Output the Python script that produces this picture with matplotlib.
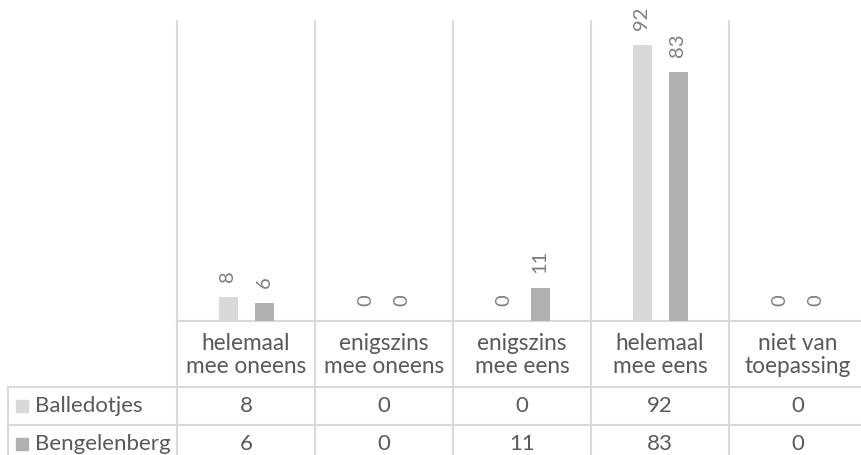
import matplotlib
matplotlib.use("Agg")
import matplotlib.pyplot as plt
import matplotlib.transforms as mtransforms
from matplotlib.patches import Rectangle

categories = ["helemaal\nmee oneens", "enigszins\nmee oneens", "enigszins\nmee eens",
              "helemaal\nmee eens", "niet van\ntoepassing"]
series_names = ["Balledotjes", "Bengelenberg"]
balledotjes = [8, 0, 0, 92, 0]
bengelenberg = [6, 0, 11, 83, 0]
values = [balledotjes, bengelenberg]
colors = ["#D9D9D9", "#B0B0B0"]

plt.rcParams['font.family'] = ['Lato', 'DejaVu Sans']
W, H = 861, 455
fig = plt.figure(figsize=(W / 100, H / 100), dpi=100)
# plot area in pixels: left 177, baseline 321, top 21, column width 138
left, base, top, colw = 177, 321, 21, 138
right = W
ax = fig.add_axes([left / W, (H - base) / H, (right - left) / W, (base - top) / H])
xmax = -0.5 + (right - left) / colw
ax.set_xlim(-0.5, xmax)
ax.set_ylim(0, 100)
ax.axis("off")

grid_c = "#D9D9D9"
txt_c = "#595959"
lab_c = "#7F7F7F"
bw = 19 / colw
off = 18 / colw
x = list(range(len(categories)))
for s, (vals, col) in enumerate(zip(values, colors)):
    xs = [i + (s * 2 - 1) * off for i in x]
    ax.bar(xs, vals, width=bw, color=col, zorder=3)
    for xi, v in zip(xs, vals):
        ax.annotate(str(v), (xi, v), xytext=(0, 15), textcoords="offset pixels",
                    rotation=90, ha="center", va="bottom", fontsize=14.5, color=lab_c)

blend = mtransforms.blended_transform_factory(ax.transData, ax.transAxes)
px = 1 / (base - top)  # axes units per pixel (vertical)
y_cat = -(387 - base) * px
y_row1 = -(425 - base) * px
y_bot = -(470 - base) * px
y_axtop = 1.0

# vertical grid lines through plot + table
for b in [-0.5 + k for k in range(5)]:
    ax.plot([b, b], [y_axtop, y_bot], transform=blend, color=grid_c, lw=1.5,
            clip_on=False, zorder=1)
# horizontal table lines
ax.plot([-0.5, xmax], [0, 0], transform=blend, color=grid_c, lw=1.5, clip_on=False, zorder=2)
tx_left = (8 - left) / colw - 0.5
for yy in [y_cat, y_row1]:
    ax.plot([tx_left, xmax], [yy, yy], transform=blend, color=grid_c, lw=1.5, clip_on=False)
ax.plot([tx_left, tx_left], [y_cat, y_bot], transform=blend, color=grid_c, lw=1.5, clip_on=False)

# category labels
for i, c in enumerate(categories):
    ax.text(i, -(355 - base) * px, c, transform=blend, ha="center", va="center",
            fontsize=16.3, color=txt_c, linespacing=1.1)

# data table rows
row_centers = [406, 444]
for r, (name, vals, col) in enumerate(zip(series_names, values, colors)):
    yc = -(row_centers[r] - base) * px
    ax.add_patch(Rectangle(((16 - left) / colw - 0.5, yc - 6 * px), 12 / colw, 12 * px,
                           transform=blend, color=col, clip_on=False))
    ax.text((35 - left) / colw - 0.5, yc, name, transform=blend, ha="left", va="center",
            fontsize=16, color=txt_c)
    for i, v in enumerate(vals):
        ax.text(i, yc, str(v), transform=blend, ha="center", va="center",
                fontsize=16, color=txt_c)

fig.savefig("out.png", dpi=100)
